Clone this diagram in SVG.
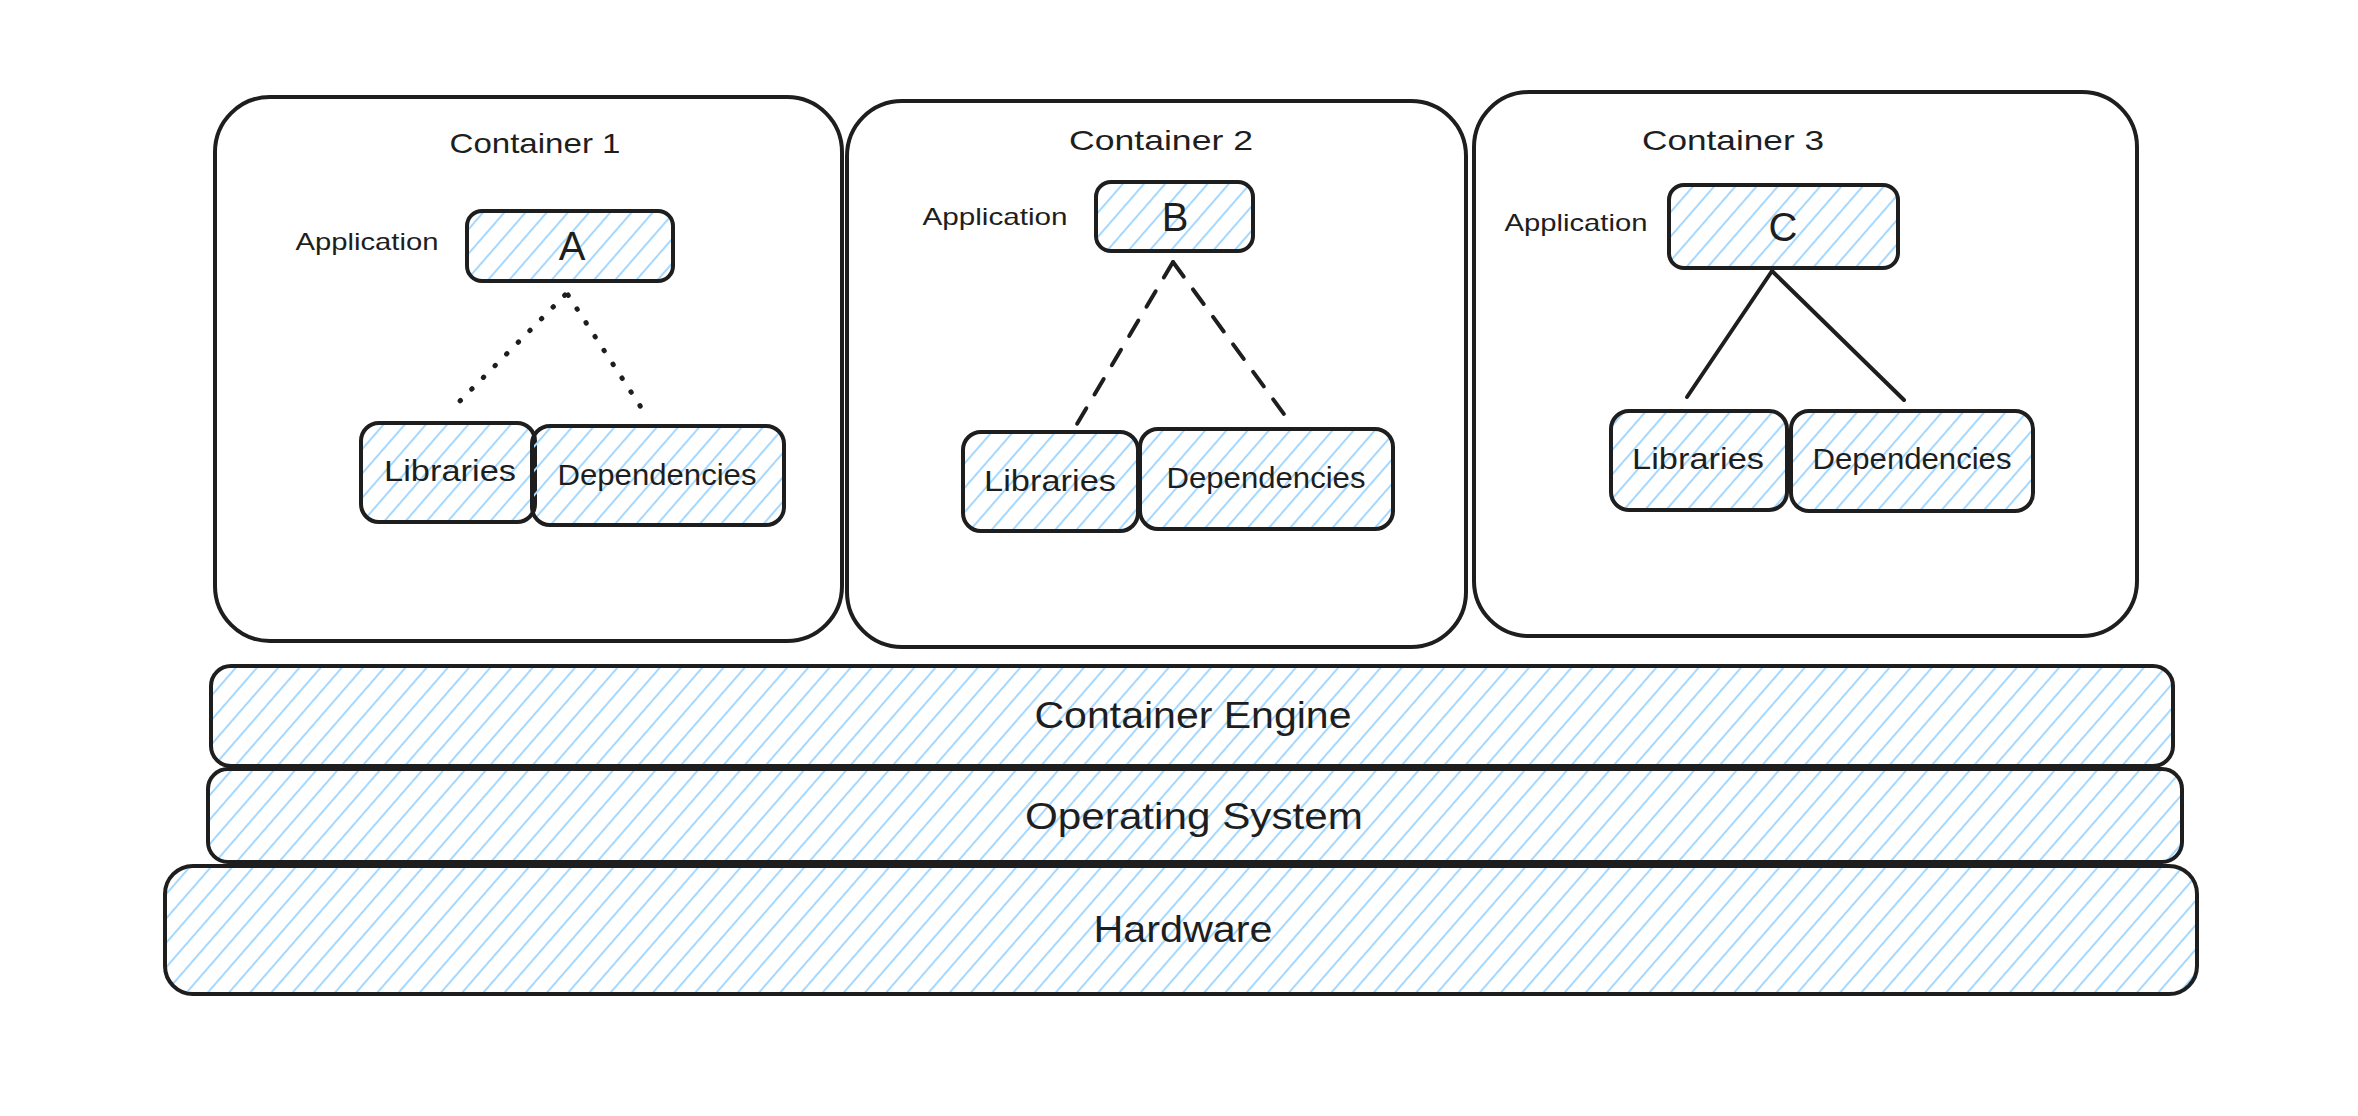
<svg xmlns="http://www.w3.org/2000/svg" width="2358" height="1116" viewBox="0 0 2358 1116">
<defs>
<pattern id="hatch" patternUnits="userSpaceOnUse" width="16" height="16" patternTransform="rotate(41)">
<line x1="8" y1="-2" x2="8" y2="18" stroke="#a5d8ff" stroke-width="2"/>
</pattern>
</defs>
<style>
.box{fill:url(#hatch);stroke:#1e1e1e;stroke-width:4}
.cont{fill:#ffffff;stroke:#1e1e1e;stroke-width:4}
.t{font-family:"Liberation Sans",Arial,sans-serif;fill:#1e1e1e;text-anchor:middle}
.title{font-size:28px}
.app{font-size:24px}
.item{font-size:29px}
.letter{font-size:40px}
.layer{font-size:36px}
.conn{fill:none;stroke:#1e1e1e;stroke-width:4;stroke-linecap:round}
.dot{stroke-width:5;stroke-dasharray:0.5 16}
.dash{stroke-dasharray:18 16}
</style>
<rect x="0" y="0" width="2358" height="1116" fill="#ffffff"/>

<g id="container1">
<rect class="cont" x="215" y="97" width="627" height="544" rx="55"/>
<text class="t title" x="535" y="153" textLength="171" lengthAdjust="spacingAndGlyphs">Container 1</text>
</g>
<g id="container2">
<rect class="cont" x="847" y="101" width="619" height="546" rx="55"/>
<text class="t title" x="1161" y="150" textLength="184" lengthAdjust="spacingAndGlyphs">Container 2</text>
</g>
<g id="container3">
<rect class="cont" x="1474" y="92" width="663" height="544" rx="55"/>
<text class="t title" x="1733" y="150" textLength="182" lengthAdjust="spacingAndGlyphs">Container 3</text>
</g>

<g id="app-label-1"><text class="t app" x="367" y="250" textLength="143" lengthAdjust="spacingAndGlyphs">Application</text></g>
<g id="app-label-2"><text class="t app" x="995" y="225" textLength="145" lengthAdjust="spacingAndGlyphs">Application</text></g>
<g id="app-label-3"><text class="t app" x="1576" y="231" textLength="143" lengthAdjust="spacingAndGlyphs">Application</text></g>

<g id="app-a">
<rect class="box" x="467" y="211" width="206" height="70" rx="15"/>
<text class="t letter" x="572" y="260">A</text>
</g>
<g id="app-b">
<rect class="box" x="1096" y="182" width="157" height="69" rx="15"/>
<text class="t letter" x="1175" y="231">B</text>
</g>
<g id="app-c">
<rect class="box" x="1669" y="185" width="229" height="83" rx="15"/>
<text class="t letter" x="1783" y="241">C</text>
</g>

<g id="lib-1">
<rect class="box" x="361" y="423" width="174" height="99" rx="18"/>
<text class="t item" x="450" y="481" textLength="132" lengthAdjust="spacingAndGlyphs">Libraries</text>
</g>
<g id="dep-1">
<rect class="box" x="532" y="426" width="252" height="99" rx="18"/>
<text class="t item" x="657" y="485" textLength="199" lengthAdjust="spacingAndGlyphs">Dependencies</text>
</g>
<g id="lib-2">
<rect class="box" x="963" y="432" width="175" height="99" rx="18"/>
<text class="t item" x="1050" y="491" textLength="132" lengthAdjust="spacingAndGlyphs">Libraries</text>
</g>
<g id="dep-2">
<rect class="box" x="1140" y="429" width="253" height="100" rx="18"/>
<text class="t item" x="1266" y="488" textLength="199" lengthAdjust="spacingAndGlyphs">Dependencies</text>
</g>
<g id="lib-3">
<rect class="box" x="1611" y="411" width="176" height="99" rx="18"/>
<text class="t item" x="1698" y="469" textLength="132" lengthAdjust="spacingAndGlyphs">Libraries</text>
</g>
<g id="dep-3">
<rect class="box" x="1791" y="411" width="242" height="100" rx="18"/>
<text class="t item" x="1912" y="469" textLength="199" lengthAdjust="spacingAndGlyphs">Dependencies</text>
</g>

<g id="container-engine">
<rect class="box" x="211" y="666" width="1962" height="100" rx="20"/>
<text class="t layer" x="1193" y="728" textLength="317" lengthAdjust="spacingAndGlyphs">Container Engine</text>
</g>
<g id="operating-system">
<rect class="box" x="208" y="769" width="1974" height="93" rx="20"/>
<text class="t layer" x="1194" y="829" textLength="338" lengthAdjust="spacingAndGlyphs">Operating System</text>
</g>
<g id="hardware">
<rect class="box" x="165" y="866" width="2032" height="128" rx="28"/>
<text class="t layer" x="1183" y="942" textLength="179" lengthAdjust="spacingAndGlyphs">Hardware</text>
</g>

<g id="connectors">
<path class="conn dot" d="M565 295 L455 406"/>
<path class="conn dot" d="M568 295 L646 415"/>
<path class="conn dash" d="M1173 262 L1077 424"/>
<path class="conn dash" d="M1173 262 L1289 421"/>
<path class="conn" d="M1772 271 L1687 397"/>
<path class="conn" d="M1772 271 L1904 400"/>
</g>
</svg>
